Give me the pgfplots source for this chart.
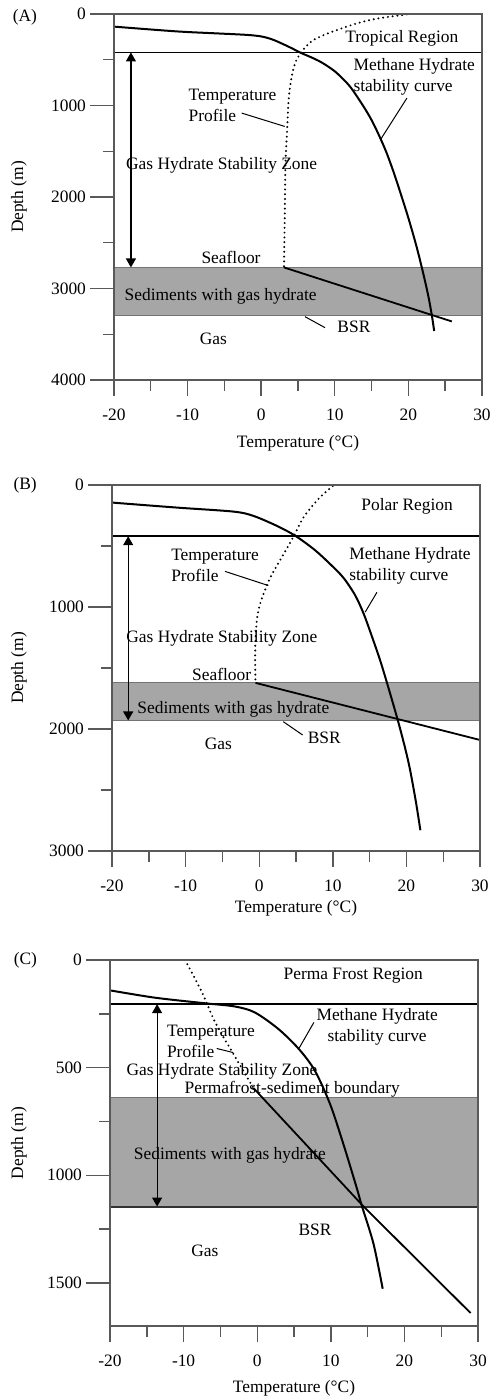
\documentclass[border=0pt]{standalone}
\usepackage{fontspec}
\setmainfont{Liberation Serif}
\usepackage{pgfplots}
\pgfplotsset{compat=1.18}
\usetikzlibrary{arrows.meta}

\tikzset{lbl/.style={inner sep=0pt}}
\pgfplotsset{
  base/.style={
    scale only axis, width=184pt, height=183pt, anchor=south west,
    xmin=-20, xmax=30, y dir=reverse, ymin=0,
    tick align=outside, xtick pos=left, ytick pos=left,
    minor tick length=5.5pt,
    axis line style={black!65, line width=0.7pt},
    tick style={black!65, line width=0.7pt},
  },
  panel/.style={base,
    xtick={-20,-10,0,10,20,30}, minor xtick={-15,-5,5,15,25},
    xticklabels={-20,-10,0,10,20,30},
    major tick length=8pt,
    ytick style={draw=none},
    clip=false, axis on top,
    /pgf/number format/assume math mode=true,
    /pgf/number format/1000 sep={},
    tick label style={font=\fontsize{8.7}{10}\selectfont},
    xlabel={Temperature (°C)}, ylabel={Depth (m)},
    xticklabel style={yshift=-3pt},
    yticklabel style={xshift=-2.5pt},
  },
  yticksonly/.style={base, hide x axis, axis line style={draw=none},
    major tick length=12pt, yticklabels={}},
  xlab/.style={every axis x label/.style={at={(axis description cs:0.5,0)}, anchor=center, yshift=-#1}},
  ylab/.style={every axis y label/.style={at={(axis description cs:#1,0.5)}, anchor=center, rotate=90}},
  stab/.style={black, line width=1pt, no markers, smooth},
  geo/.style={black, line width=0.9pt, no markers},
  dotl/.style={black, line width=1.1pt, no markers, smooth, line cap=round, dash pattern=on 0pt off 2.4pt},
  hl/.style={black, line width=0.8pt, no markers},
  lead/.style={black, line width=0.5pt, no markers},
  band/.style={fill=black!35, draw=black!55, line width=0.5pt, no markers},
  dar/.style={black, line width=0.6pt, no markers, {Triangle[width=5pt,length=4.5pt]}-{Triangle[width=5pt,length=4.5pt]}},
}

\begin{document}
\begin{tikzpicture}[font=\fontsize{8.7}{10.5}\selectfont]
\useasboundingbox (0,0) rectangle (245.5pt,699pt);

% ---------------- Panel A ----------------
\begin{axis}[yticksonly, at={(57pt,509pt)}, ymax=4000,
  ytick={0,1000,2000,3000,4000}, minor ytick={500,1500,2500,3500}]
\end{axis}
\begin{axis}[panel, at={(57pt,509pt)}, ymax=4000,
  ytick={0,1000,2000,3000,4000}, minor ytick={500,1500,2500,3500},
  xlab=31.5pt, ylab=-0.258]
\addplot[band] coordinates {(-20,2770) (30,2770) (30,3300) (-20,3300) (-20,2770)};
\addplot[hl] coordinates {(-20,420) (30,420)};
\addplot[stab] coordinates {(-20,138) (-11.5,190) (-6,212) (-2,228) (0,245) (1.5,278) (3,330) (4.3,380) (5.3,422) (6.7,470) (8,520) (9.2,580) (10.3,647) (12.07,793) (13.9,1010) (15,1160) (16,1325) (17,1510) (18,1730) (18.9,1950) (20,2230) (21.1,2540) (22,2830) (22.7,3080) (23.2,3300) (23.5,3464)};
\addplot[dotl] coordinates {(19.8,5) (17,35) (14.8,65) (12.5,115) (10.3,175) (8.5,230) (7.1,284) (6.2,345) (5.5,411) (4.8,500) (4.4,593) (4.0,750) (3.7,974) (3.5,1301) (3.3,1628) (3.2,2200) (3.1,2770)};
\addplot[geo] coordinates {(3.1,2770) (25.9,3360)};
\addplot[dar] coordinates {(-17.7,420) (-17.7,2770)};
\addplot[lead] coordinates {(-2.65,1083) (3.2,1229)};
\addplot[lead] coordinates {(19.8,919) (16.2,1374)};
\addplot[lead] coordinates {(5.95,3308) (8.67,3428)};
\node[lbl] at (-32.1,33) {(A)};
\node[lbl] at (19.1,262) {Tropical Region};
\node[lbl, anchor=west, align=left] at (12.5,692) {Methane Hydrate\\stability curve};
\node[lbl, anchor=west, align=left] at (-9.9,1000) {Temperature\\Profile};
\node[lbl, anchor=west] at (-18.4,1658) {Gas Hydrate Stability Zone};
\node[lbl] at (-4.1,2661) {Seafloor};
\node[lbl, anchor=west] at (-18.6,3086) {Sediments with gas hydrate};
\node[lbl] at (12.6,3424) {BSR};
\node[lbl] at (-6.5,3555) {Gas};
\end{axis}

% ---------------- Panel B ----------------
\begin{axis}[yticksonly, at={(56pt,273.5pt)}, ymax=3000,
  ytick={0,1000,2000,3000}, minor ytick={500,1500,2500}]
\end{axis}
\begin{axis}[panel, at={(56pt,273.5pt)}, ymax=3000,
  ytick={0,1000,2000,3000}, minor ytick={500,1500,2500},
  xlab=28.5pt, ylab=-0.2527]
\addplot[band] coordinates {(-20,1620) (30,1620) (30,1930) (-20,1930) (-20,1620)};
\addplot[hl] coordinates {(-20,420) (30,420)};
\addplot[stab] coordinates {(-20,144) (-11.2,185) (-3.5,218) (-0.8,253) (2.4,335) (4.9,416) (7.5,530) (9.5,640) (11.4,757) (13.0,900) (14.2,1056) (15.5,1273) (16.5,1450) (17.5,1650) (18.8,1921) (19.8,2150) (20.5,2335) (21.3,2600) (21.9,2830)};
\addplot[dotl] coordinates {(10.0,8) (8.8,70) (7.8,131) (6.0,267) (4.6,430) (2.8,620) (1.5,760) (0.6,890) (0.0,1000) (-0.3,1100) (-0.5,1250) (-0.55,1450) (-0.5,1622)};
\addplot[geo] coordinates {(-0.5,1622) (30,2090)};
\addplot[dar] coordinates {(-17.8,420) (-17.8,1930)};
\addplot[lead] coordinates {(-4.65,708) (1.24,824)};
\addplot[lead] coordinates {(16.0,879) (14.4,1042)};
\addplot[lead] coordinates {(3.27,1940) (5.9,2049)};
\node[lbl] at (-31.8,0) {(B)};
\node[lbl] at (20.1,171) {Polar Region};
\node[lbl, anchor=west, align=left] at (12.2,665) {Methane Hydrate\\stability curve};
\node[lbl, anchor=west, align=left] at (-12.0,659) {Temperature\\Profile};
\node[lbl, anchor=west] at (-18.1,1260) {Gas Hydrate Stability Zone};
\node[lbl] at (-5.1,1553) {Seafloor};
\node[lbl, anchor=west] at (-16.6,1839) {Sediments with gas hydrate};
\node[lbl] at (8.85,2071) {BSR};
\node[lbl] at (-5.55,2122) {Gas};
\end{axis}

% ---------------- Panel C ----------------
\begin{axis}[yticksonly, at={(55pt,36pt)}, ymax=1700,
  ytick={0,500,1000,1500}, minor ytick={250,750,1250}]
\end{axis}
\begin{axis}[panel, at={(55pt,36pt)}, ymax=1700,
  ytick={0,500,1000,1500}, minor ytick={250,750,1250},
  xlab=31pt, ylab=-0.2473]
\addplot[band] coordinates {(-20,640) (30,640) (30,1145) (-20,1145) (-20,640)};
\addplot[black!80, line width=1pt, no markers] coordinates {(-20,1145) (30,1145)};
\addplot[hl] coordinates {(-20,205) (30,205)};
\addplot[stab] coordinates {(-20,141) (-13.9,175) (-7.1,201) (-3.0,216) (-0.3,244) (2.9,321) (5.7,415) (7.85,515) (9.9,669) (11.7,854) (13.5,1056) (14.2,1140) (15.8,1318) (17.05,1527)};
\addplot[dotl] coordinates {(-9.8,0) (-7.5,150) (-5.7,290) (-3,450) (-0.5,595)};
\addplot[geo] coordinates {(-0.5,595) (14.4,1143) (29,1640)};
\addplot[dar] coordinates {(-13.6,205) (-13.6,1145)};
\addplot[lead] coordinates {(7.7,290) (5.7,409)};
\addplot[lead] coordinates {(-5.5,411) (-3.25,430)};
\node[lbl] at (-31.5,0) {(C)};
\node[lbl] at (13.05,74) {Perma Frost Region};
\node[lbl, align=center] at (16.3,312) {Methane Hydrate\\stability curve};
\node[lbl, anchor=west, align=left] at (-12.3,377) {Temperature\\Profile};
\node[lbl, anchor=west] at (-17.8,518) {Gas Hydrate Stability Zone};
\node[lbl, anchor=west] at (-9.9,600) {Permafrost-sediment boundary};
\node[lbl, anchor=west] at (-16.8,909) {Sediments with gas hydrate};
\node[lbl] at (7.85,1253) {BSR};
\node[lbl] at (-7.1,1352) {Gas};
\end{axis}
\end{tikzpicture}
\end{document}
